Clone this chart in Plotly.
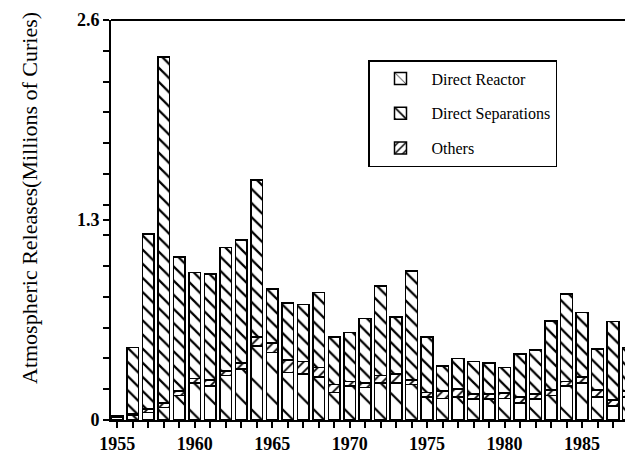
import plotly.graph_objects as go

years = list(range(1955, 1989))
direct_reactor = [0.02, 0.03, 0.05, 0.08, 0.16, 0.24, 0.22, 0.29, 0.33, 0.48, 0.44,
                  0.31, 0.30, 0.28, 0.18, 0.22, 0.21, 0.24, 0.24, 0.23, 0.15, 0.14,
                  0.15, 0.135, 0.135, 0.14, 0.11, 0.135, 0.16, 0.22, 0.24, 0.15, 0.09, 0.15]
others = [0.00, 0.01, 0.02, 0.03, 0.03, 0.03, 0.04, 0.03, 0.04, 0.06, 0.06,
          0.08, 0.08, 0.06, 0.05, 0.03, 0.03, 0.05, 0.06, 0.03, 0.03, 0.05,
          0.05, 0.035, 0.035, 0.035, 0.04, 0.035, 0.035, 0.03, 0.04, 0.045, 0.04, 0.04]
direct_separations = [0.01, 0.43, 1.14, 2.25, 0.87, 0.69, 0.69, 0.80, 0.80, 1.02, 0.35,
                      0.37, 0.37, 0.49, 0.31, 0.32, 0.42, 0.58, 0.37, 0.71, 0.36, 0.16,
                      0.20, 0.21, 0.20, 0.165, 0.28, 0.285, 0.45, 0.57, 0.42, 0.265, 0.51, 0.28]

y_tick_labels = {0: "0", 1.3: "1.3", 2.6: "2.6"}
x_tick_labels = {1955: "1955", 1960: "1960", 1965: "1965", 1970: "1970",
                 1975: "1975", 1980: "1980", 1985: "1985"}

serif = "Liberation Serif, Times New Roman, serif"

fig = go.Figure()


def add(name, vals, shape, size, solidity, rank, group):
    fig.add_trace(go.Bar(
        x=years, y=vals, name=name, width=0.76,
        legendrank=rank, legendgroup=group,
        marker=dict(
            color="white",
            line=dict(color="black", width=1.5),
            pattern=dict(shape=shape, size=size, solidity=solidity,
                         fgcolor="black", bgcolor="white", fgopacity=1),
        ),
    ))


add("Direct Reactor", direct_reactor, "\\", 22, 0.1, 1, "a")
add("Others", others, "/", 7, 0.25, 3, "c")
add("Direct Separations", direct_separations, "\\", 10, 0.22, 2, "b")

# y ticks: every 0.2 plus labelled 1.3
yt = sorted(set([round(i * 0.2, 1) for i in range(14)] + [1.3]))
yt_text = [y_tick_labels.get(v, "") for v in yt]
xt = [y for y in years if y <= 1987]
xt_text = [x_tick_labels.get(v, "") for v in xt]

fig.update_layout(
    width=625, height=454,
    margin=dict(l=111, r=0, t=20, b=34),
    paper_bgcolor="white", plot_bgcolor="white",
    barmode="stack",
    showlegend=True,
    legend=dict(
        x=(368 - 111) / 514, y=1 - (60 - 20) / 400, xanchor="left", yanchor="top",
        bgcolor="white", bordercolor="black", borderwidth=1.5,
        font=dict(family=serif, size=16, color="black"),
        traceorder="grouped", tracegroupgap=11, itemwidth=52,
    ),
    xaxis=dict(
        range=[1954.6, 1987.77],
        tickvals=xt, ticktext=xt_text,
        ticks="outside", ticklen=6, tickwidth=1.5, tickcolor="black",
        showline=True, linecolor="black", linewidth=2,
        showgrid=False, zeroline=False,
        tickfont=dict(family=serif, size=18, color="black", weight="bold"),
    ),
    yaxis=dict(
        range=[0, 2.6],
        tickvals=yt, ticktext=yt_text,
        ticks="outside", ticklen=6, tickwidth=1.5, tickcolor="black",
        showline=True, linecolor="black", linewidth=2,
        showgrid=False, zeroline=False,
        tickfont=dict(family=serif, size=18, color="black", weight="bold"),
    ),
    shapes=[dict(type="line", xref="paper", yref="paper", x0=0, x1=1, y0=1, y1=1,
                 line=dict(color="black", width=2))],
    annotations=[dict(
        text="Atmospheric Releases(Millions of Curies)",
        xref="paper", yref="paper",
        x=(30 - 111) / 514, y=(420 - 198) / 400,
        xanchor="center", yanchor="middle", textangle=-90, showarrow=False,
        font=dict(family=serif, size=22, color="black"),
    )],
)

fig.write_html("out.html")
